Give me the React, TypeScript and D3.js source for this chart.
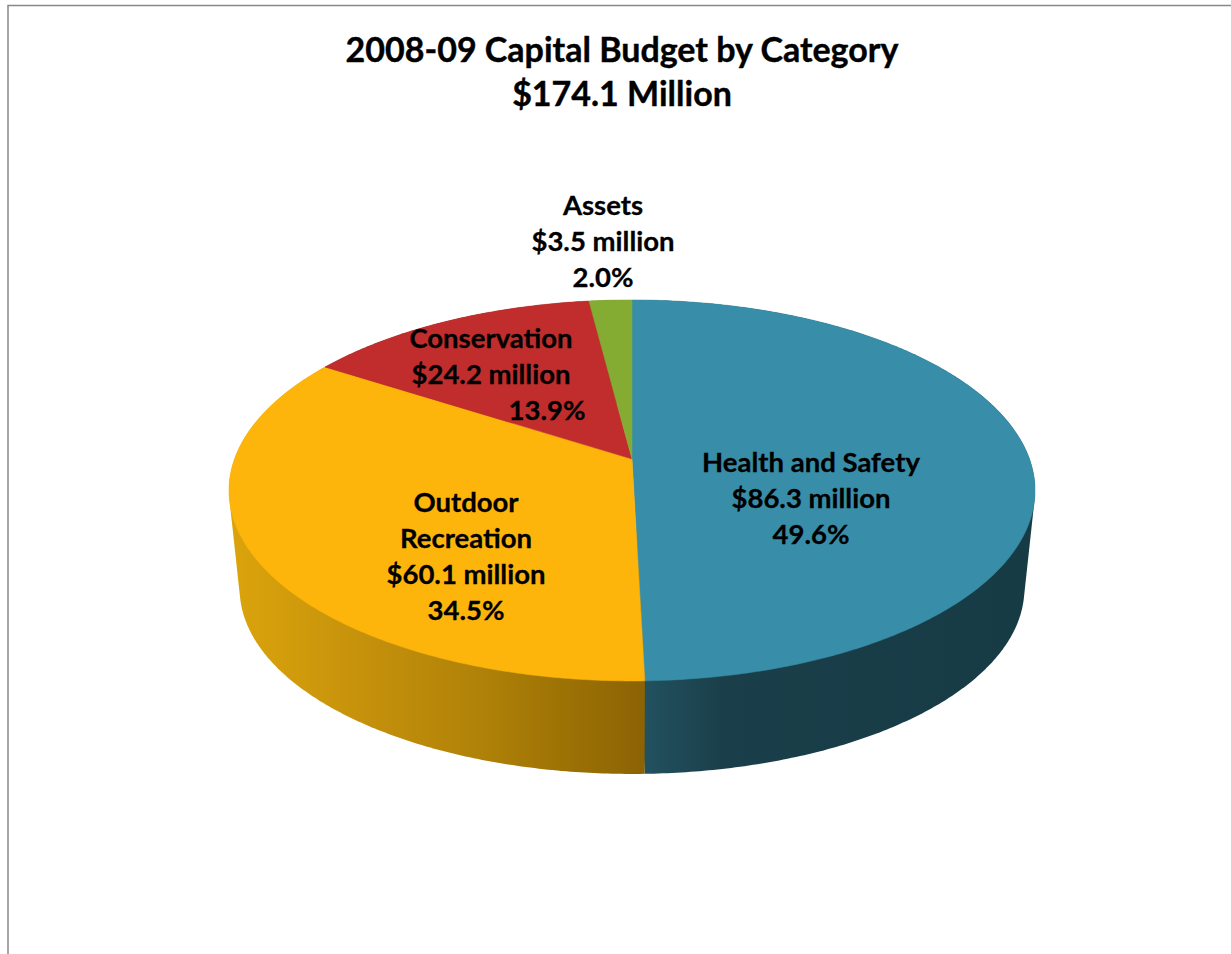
import React, { useEffect, useRef } from 'react';
import * as d3 from 'd3';

const categories = ['Health and Safety', 'Outdoor Recreation', 'Conservation', 'Assets'];
const amounts = [86.3, 60.1, 24.2, 3.5];
const amountLabels = ['$86.3 million', '$60.1 million', '$24.2 million', '$3.5 million'];
const shareLabels = ['49.6%', '34.5%', '13.9%', '2.0%'];
const titleLines = ['2008-09 Capital Budget by Category', '$174.1 Million'];

const topColors = ['#388ea8', '#fdb50b', '#c12d2d', '#84ac32'];
const wallStops = [
  [['0', '#22515f'], ['0.2', '#1a3f4a'], ['1', '#173b45']],
  [['0', '#dba40c'], ['0.4', '#c08d0b'], ['0.6', '#b08208'], ['1', '#8b6303']],
  [['0', '#7c1d1d'], ['1', '#7c1d1d']],
  [['0', '#55701f'], ['1', '#55701f']],
];

// label text blocks: [center x, first baseline, lines]
const labelBlocks: { x: number; y: number; lines: string[] }[] = [
  { x: 811, y: 472, lines: [categories[0], amountLabels[0], shareLabels[0]] },
  { x: 466, y: 512, lines: ['Outdoor', 'Recreation', amountLabels[1], shareLabels[1]] },
  { x: 491, y: 348, lines: [categories[2], amountLabels[2]] },
  { x: 547, y: 420, lines: [shareLabels[2]] },
  { x: 603, y: 215, lines: [categories[3], amountLabels[3], shareLabels[3]] },
];

const W = 1231;
const H = 954;
const FONT = 'Lato, "Open Sans", sans-serif';

// Perspective disc: the apex of the slices sits above the ellipse centre
const top = { x: 632, y: 459, a: 397.5, b: 185.3, k: 0.165 };
const bottom = { x: 632, y: 558, a: 387, b: 180.3, k: 0.165 };

type Disc = typeof top;
const project = (d: Disc, angle: number): [number, number] => {
  const u = Math.sin(angle);
  const v = Math.cos(angle);
  const w = 1 + d.k * v;
  return [d.x + (d.a * u) / w, d.y - (d.b * v) / w];
};

const App: React.FC = () => {
  const svgRef = useRef<SVGSVGElement>(null);

  useEffect(() => {
    if (!svgRef.current) return;
    const svg = d3.select(svgRef.current);
    svg.selectAll('*').remove();

    const arcs = d3.pie<number>().sort(null)(amounts);
    const line = d3.line();
    const arcPoints = (d: Disc, a0: number, a1: number) => {
      const n = Math.max(2, Math.ceil((a1 - a0) / 0.01));
      const t = d3.scaleLinear().domain([0, n]).range([a0, a1]);
      return d3.range(n + 1).map((i) => project(d, t(i)));
    };

    // Frame (only top and left edges fall inside the page)
    svg
      .append('path')
      .attr('d', line([[8, H], [8, 5.5], [W, 5.5]]))
      .attr('fill', 'none')
      .attr('stroke', '#888888')
      .attr('stroke-width', 1.5);

    // Wall gradients
    const defs = svg.append('defs');
    wallStops.forEach((stops, i) => {
      const reversed = i === 1;
      const g = defs
        .append('linearGradient')
        .attr('id', `wall-${i}`)
        .attr('gradientUnits', 'userSpaceOnUse')
        .attr('x1', reversed ? 229 : 645)
        .attr('x2', reversed ? 645 : 1035)
        .attr('y1', 0)
        .attr('y2', 0);
      stops.forEach(([offset, color]) => {
        g.append('stop').attr('offset', offset).attr('stop-color', color);
      });
    });

    // Walls: hull of both rims so the side tangents are filled in
    arcs.forEach((a, i) => {
      const upper = arcPoints(top, a.startAngle, a.endAngle);
      const lower = arcPoints(bottom, a.startAngle, a.endAngle);
      const hull = d3.polygonHull([...upper, ...lower]);
      if (!hull) return;
      svg
        .append('path')
        .attr('d', `${line(hull)}Z`)
        .attr('fill', `url(#wall-${i})`);
    });

    // Top faces
    arcs.forEach((a, i) => {
      const pts = arcPoints(top, a.startAngle, a.endAngle);
      svg
        .append('path')
        .attr('d', `${line([[top.x, top.y], ...pts])}Z`)
        .attr('fill', topColors[i])
        .attr('stroke', topColors[i])
        .attr('stroke-width', 0.5);
    });

    // Title
    svg
      .selectAll('.title')
      .data(titleLines)
      .enter()
      .append('text')
      .attr('class', 'title')
      .attr('x', 622)
      .attr('y', (_, i) => 62 + i * 44)
      .attr('text-anchor', 'middle')
      .attr('font-family', FONT)
      .attr('font-weight', 700)
      .attr('font-size', 34)
      .attr('fill', '#000')
      .attr('stroke', '#000')
      .attr('stroke-width', 0.4)
      .text((d) => d);

    // Slice labels
    labelBlocks.forEach((b) => {
      svg
        .append('g')
        .selectAll('text')
        .data(b.lines)
        .enter()
        .append('text')
        .attr('x', b.x)
        .attr('y', (_, i) => b.y + i * 36)
        .attr('text-anchor', 'middle')
        .attr('font-family', FONT)
        .attr('font-weight', 700)
        .attr('font-size', 27.5)
        .attr('fill', '#000')
        .attr('stroke', '#000')
        .attr('stroke-width', 0.3)
        .text((d) => d);
    });
  }, []);

  return (
    <svg
      ref={svgRef}
      width={W}
      height={H}
      style={{ position: 'absolute', left: 0, top: 0, display: 'block', background: '#fff' }}
    />
  );
};

export default App;
